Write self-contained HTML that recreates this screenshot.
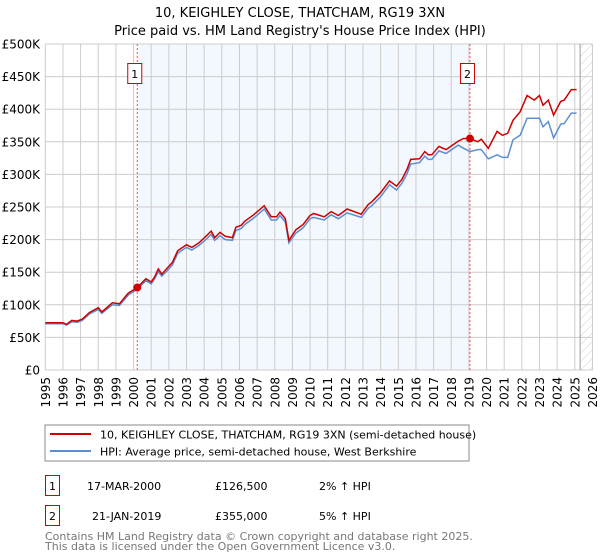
<!DOCTYPE html>
<html><head><meta charset="utf-8"><style>
body{margin:0;background:#fff;width:600px;height:560px;overflow:hidden;font-family:"DejaVu Sans","Liberation Sans",sans-serif}
svg{display:block}
</style></head><body>
<svg id="c" width="600" height="560" font-family="DejaVu Sans, Liberation Sans, sans-serif">
<text x="300" y="17" text-anchor="middle" font-size="13">10, KEIGHLEY CLOSE, THATCHAM, RG19 3XN</text>
<text x="300" y="35" text-anchor="middle" font-size="13">Price paid vs. HM Land Registry's House Price Index (HPI)</text>
<defs><pattern id="hatch" width="6" height="6" patternUnits="userSpaceOnUse" patternTransform="rotate(45)"><line x1="0" y1="0" x2="0" y2="6" stroke="#ccc" stroke-width="1"/></pattern></defs>
<g id="plot"></g>
<rect x="45" y="425" width="424" height="36" fill="#fff" stroke="#888"/>
<line x1="50" y1="434" x2="91" y2="434" stroke="#cc0000" stroke-width="2"/>
<text x="100" y="438.5" font-size="11">10, KEIGHLEY CLOSE, THATCHAM, RG19 3XN (semi-detached house)</text>
<line x1="50" y1="451" x2="91" y2="451" stroke="#5b8fd0" stroke-width="2"/>
<text x="100" y="455.5" font-size="11">HPI: Average price, semi-detached house, West Berkshire</text>
<rect x="45.5" y="475.5" width="14" height="20" fill="#fff" stroke="#cc0000"/>
<text x="52.5" y="490" font-size="11" text-anchor="middle">1</text>
<text x="87" y="490" font-size="11">17-MAR-2000</text>
<text x="215" y="490" font-size="11">£126,500</text>
<text x="319" y="490" font-size="11">2% ↑ HPI</text>
<rect x="45.5" y="505.5" width="14" height="20" fill="#fff" stroke="#cc0000"/>
<text x="52.5" y="520" font-size="11" text-anchor="middle">2</text>
<text x="92" y="520" font-size="11">21-JAN-2019</text>
<text x="215" y="520" font-size="11">£355,000</text>
<text x="319" y="520" font-size="11">5% ↑ HPI</text>
<text x="45" y="540" font-size="11" fill="#777">Contains HM Land Registry data © Crown copyright and database right 2025.</text>
<text x="45" y="550" font-size="11" fill="#777">This data is licensed under the Open Government Licence v3.0.</text>
</svg>
<script>
const yearTicks=[1995,1996,1997,1998,1999,2000,2001,2002,2003,2004,2005,2006,2007,2008,2009,2010,2011,2012,2013,2014,2015,2016,2017,2018,2019,2020,2021,2022,2023,2024,2025,2026];
const yTickValues=[0,50,100,150,200,250,300,350,400,450,500];
const yTickLabels=["£0","£50K","£100K","£150K","£200K","£250K","£300K","£350K","£400K","£450K","£500K"];
const priceT=[1995.0,1996.0,1996.2,1996.5,1996.8,1997.1,1997.5,1998.0,1998.2,1998.8,1999.2,1999.7,2000.21,2000.7,2001.0,2001.2,2001.4,2001.6,2001.9,2002.2,2002.5,2003.0,2003.3,2003.7,2004.1,2004.4,2004.6,2004.9,2005.2,2005.6,2005.8,2006.1,2006.3,2006.8,2007.4,2007.8,2008.1,2008.3,2008.6,2008.8,2009.2,2009.6,2010.0,2010.2,2010.8,2011.2,2011.6,2012.1,2012.9,2013.3,2013.5,2014.0,2014.5,2014.9,2015.2,2015.5,2015.7,2016.2,2016.5,2016.7,2016.9,2017.3,2017.7,2018.4,2018.7,2019.06,2019.5,2019.7,2020.1,2020.6,2020.9,2021.2,2021.5,2021.9,2022.3,2022.7,2023.0,2023.2,2023.5,2023.8,2024.2,2024.4,2024.8,2025.1];
const priceV=[72.5,72.5,70,76,75,78,88,95.5,89,103,101.5,118,126.5,140,135,143,155,147,156,165,183,192,188,195,205,213,203,211,205,203,219,222,228,238,252,235,235,242,232,199,215,223,237,240,235,243,237,247,239,254,258,272,290,282,292,308,323,324,335,330,330,343,338,351,355,355,350,354,340,366,360,363,383,396,421,414,421,406,414,391,412,414,430,430];
const hpiT=[1995.0,1996.0,1996.2,1996.5,1996.8,1997.1,1997.5,1998.0,1998.2,1998.8,1999.2,1999.7,2000.21,2000.7,2001.0,2001.2,2001.4,2001.6,2001.9,2002.2,2002.5,2003.0,2003.3,2003.7,2004.1,2004.4,2004.6,2004.9,2005.2,2005.6,2005.8,2006.1,2006.3,2006.8,2007.4,2007.8,2008.1,2008.3,2008.6,2008.8,2009.2,2009.6,2010.0,2010.2,2010.8,2011.2,2011.6,2012.1,2012.9,2013.3,2013.5,2014.0,2014.5,2014.9,2015.2,2015.5,2015.7,2016.2,2016.5,2016.7,2016.9,2017.3,2017.7,2018.4,2018.7,2019.06,2019.5,2019.7,2020.1,2020.6,2020.9,2021.2,2021.5,2021.9,2022.3,2022.7,2023.0,2023.2,2023.5,2023.8,2024.2,2024.4,2024.8,2025.1];
const hpiV=[71,71,69,74,73,76,86,93,87,100,99,115,124,137,132,140,151,144,152,161,179,188,184,191,200,208,199,206,200,199,214,217,223,233,247,230,230,237,227,195,210,218,232,234,230,238,232,241,234,248,252,266,284,276,286,301,316,318,328,323,323,336,332,345,340,335,338,338,324,330,326,326,353,360,386,386,386,373,381,356,377,378,394,394];
const sales=[{t:2000.21,v:126.5,n:"1"},{t:2019.06,v:355,n:"2"}];
const X0=45.3,PX=17.65,Y0=370,PY=0.652;
const xs=t=>X0+(t-1995)*PX, ys=v=>Y0-v*PY;
const ns="http://www.w3.org/2000/svg",g=document.getElementById('plot');
function mk(tag,a){const e=document.createElementNS(ns,tag);for(const k in a)e.setAttribute(k,a[k]);g.appendChild(e);return e;}
let e=mk('rect',{x:xs(2000.21),y:ys(500),width:xs(2019.06)-xs(2000.21),height:ys(0)-ys(500),fill:'#eef3fd',opacity:0.7});


e=mk('rect',{x:xs(2025.3),y:ys(500),width:xs(2026)-xs(2025.3),height:ys(0)-ys(500),fill:'url(#hatch)'});


yearTicks.forEach(y=>{const l=mk('line',{x1:xs(y),x2:xs(y),y1:ys(500),y2:ys(0),stroke:'#ccc','stroke-width':1});


const tx=xs(y)+4.5,ty=377;
const t=mk('text',{x:tx,y:ty,'font-size':12,'text-anchor':'end',transform:'rotate(-90 '+tx+' '+ty+')'});t.textContent=y;

});
yTickValues.forEach((v,i)=>{const l=mk('line',{x1:xs(1995),x2:xs(2026),y1:ys(v),y2:ys(v),stroke:'#ccc','stroke-width':1});


const t=mk('text',{x:40,y:ys(v)+4.5,'font-size':12,'text-anchor':'end'});t.textContent=yTickLabels[i];

});
e=mk('line',{x1:xs(2025.3),x2:xs(2025.3),y1:ys(500),y2:ys(0),stroke:'#999','stroke-width':1});


sales.forEach(s=>{const l=mk('line',{x1:xs(s.t),x2:xs(s.t),y1:ys(500),y2:ys(0),stroke:'#e55','stroke-width':1,'stroke-dasharray':'2,2'});


const r=mk('rect',{x:xs(s.t)-9.5,y:63.5,width:14,height:20,fill:'#fff',stroke:'#cc0000'});


const t=mk('text',{x:xs(s.t)-2.5,y:78,'font-size':11,'text-anchor':'middle'});t.textContent=s.n;});
const path=(T,V)=>T.map((t,i)=>(i?'L':'M')+xs(t).toFixed(1)+','+ys(V[i]).toFixed(1)).join('');
e=mk('path',{d:path(hpiT,hpiV),fill:'none',stroke:'#5b8fd0','stroke-width':1.5});


e=mk('path',{d:path(priceT,priceV),fill:'none',stroke:'#cc0000','stroke-width':1.5});


sales.forEach(s=>{const c=mk('circle',{cx:xs(s.t),cy:ys(s.v),r:4,fill:'#cc0000'});

});
</script>
</body></html>
